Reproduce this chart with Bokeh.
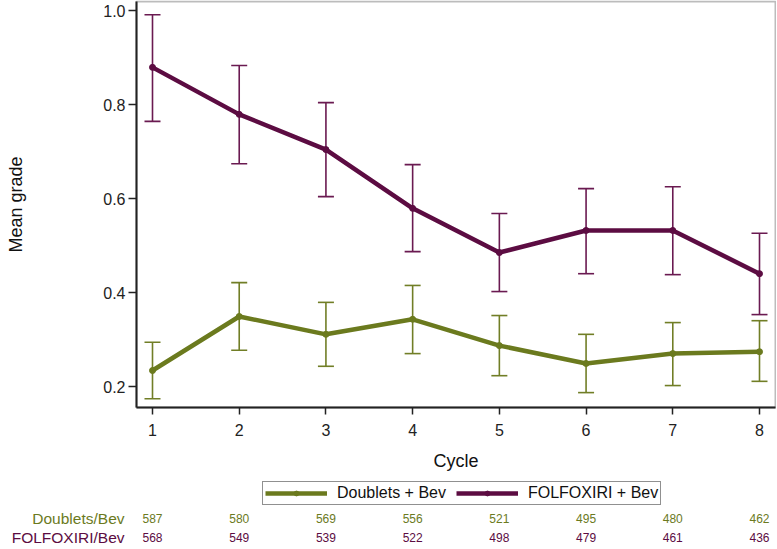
from bokeh.plotting import figure
from bokeh.models import (ColumnDataSource, Range1d, FixedTicker, Whisker, TeeHead,
                          Legend, LegendItem, NumeralTickFormatter, LinearAxis, BoxAnnotation)
from bokeh.core.properties import value
from bokeh.embed import file_html
from bokeh.resources import INLINE

# ---------------- data ----------------
cycles = [1, 2, 3, 4, 5, 6, 7, 8]
folfox_mean = [0.879, 0.779, 0.704, 0.579, 0.485, 0.532, 0.532, 0.440]
folfox_upper = [0.991, 0.883, 0.804, 0.672, 0.568, 0.621, 0.625, 0.526]
folfox_lower = [0.764, 0.674, 0.604, 0.487, 0.402, 0.440, 0.438, 0.353]
doub_mean = [0.234, 0.349, 0.311, 0.343, 0.287, 0.249, 0.270, 0.274]
doub_upper = [0.294, 0.421, 0.379, 0.415, 0.351, 0.311, 0.336, 0.340]
doub_lower = [0.174, 0.277, 0.243, 0.270, 0.223, 0.187, 0.202, 0.211]
n_doub = [587, 580, 569, 556, 521, 495, 480, 462]
n_folfox = [568, 549, 539, 522, 498, 479, 461, 436]
y_ticks = [0.2, 0.4, 0.6, 0.8, 1.0]
series_names = ["Doublets + Bev", "FOLFOXIRI + Bev"]
row_names = ["Doublets/Bev", "FOLFOXIRI/Bev"]

OLIVE = "#6b7a1e"
OLIVE_BAR = "#717e26"
MAROON = "#5c0c42"
MAROON_BAR = "#6a1a51"
INK = "#222222"
FONT = "Liberation Sans"

W, H = 776, 548
kx = 7 / 607.0          # x data units per pixel
ky = 0.8 / 376.0        # y data units per pixel


def xd(px):
    return 1 + (px - 152) * kx


def yd(py):
    return 0.2 + (386 - py) * ky


BOX_L, BOX_R, BOX_T, BOX_B = xd(136), xd(775), yd(1), yd(407)

p = figure(width=W, height=H, output_backend="svg", toolbar_location=None,
           x_range=Range1d(xd(0), xd(W)), y_range=Range1d(yd(H), yd(0)),
           x_axis_type=None, y_axis_type=None,
           min_border_left=0, min_border_right=0, min_border_top=0, min_border_bottom=0)
p.grid.visible = False
p.outline_line_color = None
p.background_fill_color = "white"
p.border_fill_color = "white"

# plot box
p.add_layout(BoxAnnotation(left=BOX_L, right=BOX_R, top=BOX_T, bottom=BOX_B,
                           fill_alpha=0, line_color=INK, line_width=2, level="underlay"))

xaxis = LinearAxis(fixed_location=BOX_B, bounds=(BOX_L, BOX_R),
                   ticker=FixedTicker(ticks=cycles), axis_label="Cycle")
yaxis = LinearAxis(fixed_location=BOX_L, bounds=(BOX_B, BOX_T),
                   ticker=FixedTicker(ticks=y_ticks), axis_label="Mean grade",
                   formatter=NumeralTickFormatter(format="0.0"))
for ax in (xaxis, yaxis):
    ax.axis_line_color = INK
    ax.axis_line_width = 2
    ax.major_tick_line_color = INK
    ax.major_tick_line_width = 1.5
    ax.major_tick_in = 0
    ax.minor_tick_line_color = None
    ax.major_label_text_font = FONT
    ax.major_label_text_font_size = "16px"
    ax.major_label_text_color = INK
    ax.axis_label_text_font = FONT
    ax.axis_label_text_font_size = "18px"
    ax.axis_label_text_font_style = "normal"
    ax.axis_label_text_color = "#111111"
xaxis.major_tick_out = 7
xaxis.major_label_standoff = 9
xaxis.axis_label_standoff = 12
yaxis.major_tick_out = 8
yaxis.major_label_standoff = 3
yaxis.axis_label_standoff = 74
p.add_layout(xaxis, "below")
p.add_layout(yaxis, "left")

src_d = ColumnDataSource(dict(x=cycles, y=doub_mean, lo=doub_lower, hi=doub_upper))
src_f = ColumnDataSource(dict(x=cycles, y=folfox_mean, lo=folfox_lower, hi=folfox_upper))

rends = []
for src, line_c, bar_c in ((src_d, OLIVE, OLIVE_BAR), (src_f, MAROON, MAROON_BAR)):
    w = Whisker(base="x", upper="hi", lower="lo", source=src,
                line_color=bar_c, line_width=1.6,
                upper_head=TeeHead(size=16, line_color=bar_c, line_width=1.6),
                lower_head=TeeHead(size=16, line_color=bar_c, line_width=1.6))
    p.add_layout(w)
    lr = p.line("x", "y", source=src, line_color=line_c, line_width=4.5)
    sr = p.scatter("x", "y", source=src, size=6, fill_color=line_c, line_color=line_c)
    rends.append([lr, sr])

leg = Legend(items=[LegendItem(label=series_names[0], renderers=rends[0]),
                    LegendItem(label=series_names[1], renderers=rends[1])],
             orientation="horizontal", location=(262, H - 505),
             label_text_font=FONT, label_text_font_size="16px", label_text_color="#111111",
             glyph_width=62, glyph_height=12, label_height=12, label_standoff=10,
             spacing=10, padding=2, margin=0,
             border_line_color=INK, border_line_width=1.5,
             background_fill_color="white", background_fill_alpha=1.0)
p.add_layout(leg)

# at-risk table below the chart
row_px = [518, 537]
counts = [n_doub, n_folfox]
colors = [OLIVE, MAROON]
for rpx, cnt, col, name in zip(row_px, counts, colors, row_names):
    yv = yd(rpx)
    s = ColumnDataSource(dict(x=cycles, y=[yv] * len(cycles), t=[str(c) for c in cnt]))
    p.text("x", "y", text="t", source=s, text_font=value(FONT), text_font_size="12px",
           text_color=col, text_align="center", text_baseline="middle")
    p.text(x=[xd(124)], y=[yv], text=[name], text_font=value(FONT),
           text_font_size="15.5px", text_color=col, text_align="right",
           text_baseline="middle")

open("out.html", "w").write(file_html(p, INLINE))
